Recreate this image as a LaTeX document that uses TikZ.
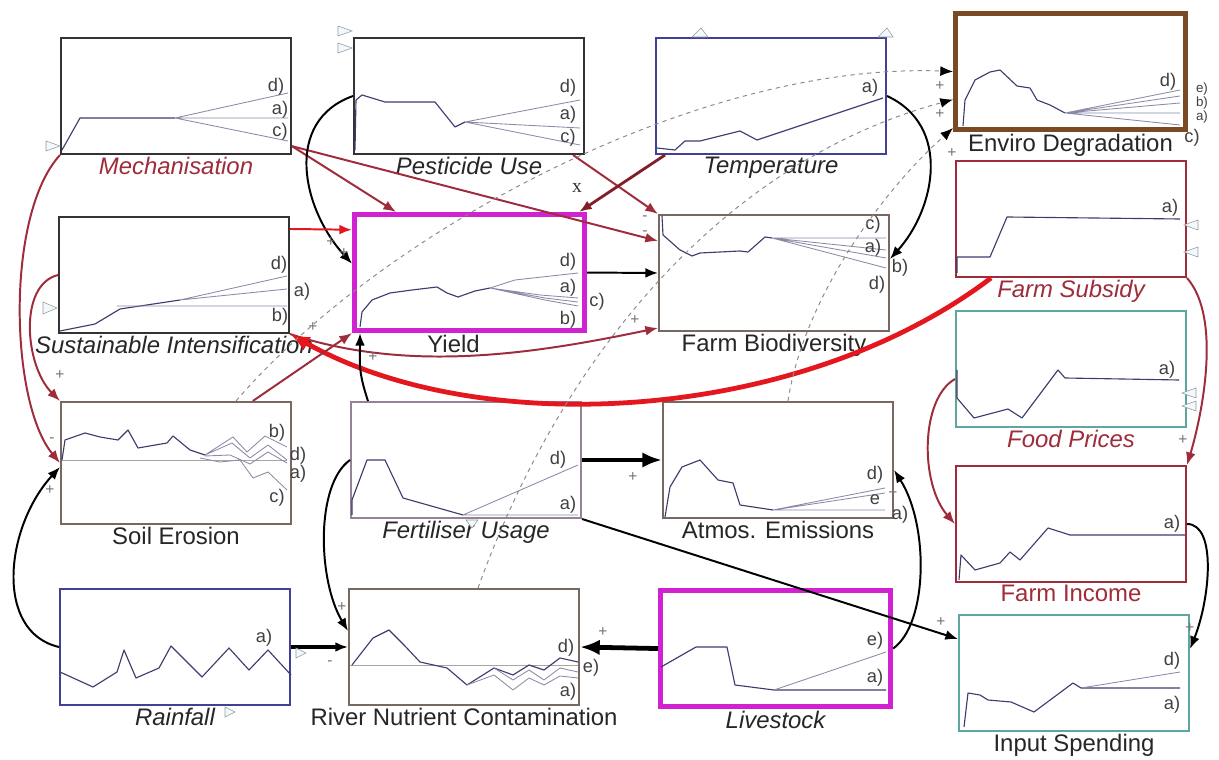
\documentclass[tikz,border=0pt]{standalone}
\usepackage{fontspec}
\setmainfont{Liberation Sans}
\newfontfamily\serifface{Liberation Serif}
\usetikzlibrary{positioning,arrows.meta}
\definecolor{wine}{RGB}{158,44,58}
\definecolor{hotred}{RGB}{228,22,30}
\definecolor{plum}{RGB}{208,34,208}
\definecolor{rust}{RGB}{122,74,34}
\definecolor{navy}{RGB}{64,64,150}
\definecolor{sea}{RGB}{96,166,160}
\definecolor{taupe}{RGB}{120,104,98}
\definecolor{mauve}{RGB}{150,130,150}
\definecolor{ink}{RGB}{60,60,110}
\definecolor{maroon}{RGB}{130,30,40}
\tikzset{panel/.style={draw=#1,line width=1.4pt,minimum width=5.75cm,
   minimum height=2.9cm,inner sep=0pt,anchor=north west},
 heavy panel/.style={panel=#1,line width=3.6pt},
 caption/.style={font=\fontsize{17}{19}\selectfont,text=black!85,inner sep=1pt},
 redcaption/.style={caption,text=wine},
 tag/.style={font=\fontsize{13}{14}\selectfont,text=black!75,inner sep=0pt},
 small tag/.style={tag,font=\fontsize{9.5}{10}\selectfont},
 sign/.style={font=\fontsize{11}{12}\selectfont,text=black!55,inner sep=0pt},
 trace/.style={draw=ink,line width=0.8pt,line join=round},
 branch/.style={draw=ink!60,line width=0.6pt,line join=round},
 zero/.style={draw=black!35,line width=0.6pt},
 link/.style={draw=black,line width=1.4pt,-{Latex[length=9pt,width=7pt]}},
 redlink/.style={link,draw=wine},
 fat/.style={line width=3.4pt,-{Latex[length=14pt,width=11pt]}},
 hint/.style={draw=black!45,dashed,line width=0.7pt,-{Latex[length=9pt,width=7pt,color=black]}},
 ghost/.style={draw=black!40,fill=cyan!6,line width=0.4pt},
 }

\begin{document}
\begin{tikzpicture}[x=0.025cm,y=-0.025cm]
\fill[white] (0,0) rectangle (1219,760);
\useasboundingbox (0,0) rectangle (1219,760);

% panels
\node[panel=black!80] (mech) at (60,37) {};
\node[panel=black!80] (pest) at (353,37) {};
\node[panel=navy] (temp) at (655,37) {};
\node[heavy panel=rust] (enviro) at (953,11) {};
\node[panel=wine] (subsidy) at (955,160) {};
\node[panel=black!80] (sustint) at (58,216) {};
\node[heavy panel=plum] (yield) at (352,212) {};
\node[panel=taupe] (biodiv) at (658,214) {};
\node[panel=sea] (prices) at (955,310) {};
\node[panel=taupe,minimum height=3.05cm] (erosion) at (60,401) {};
\node[panel=mauve] (fert) at (350,401) {};
\node[panel=taupe] (emission) at (662,401) {};
\node[panel=wine] (income) at (955,465) {};
\node[panel=navy] (rain) at (59,588) {};
\node[panel=taupe] (river) at (348,588) {};
\node[heavy panel=plum] (livestock) at (658,588) {};
\node[panel=sea] (spend) at (958,614) {};

\node[redcaption,below=0pt of mech] (mechL) {\itshape Mechanisation};
\node[caption,below=0pt of pest] (pestL) {\itshape Pesticide Use};
\node[caption,below=0pt of temp] (tempL) {\itshape Temperature};
\node[caption,below=0pt of enviro] (enviroL) {Enviro Degradation};
\node[redcaption,below=0pt of subsidy] (subsidyL) {\itshape Farm Subsidy};
\node[caption,below=0pt of sustint] (sustintL) {\itshape Sustainable Intensification};
\node[caption,below=0pt of yield,xshift=-0.4cm] (yieldL) {Yield};
\node[caption,below=0pt of biodiv] (biodivL) {Farm Biodiversity};
\node[redcaption,below=0pt of prices] (pricesL) {\itshape Food Prices};
\node[caption,below=0pt of erosion] (erosionL) {Soil Erosion};
\node[caption,below=0pt of fert] (fertL) {\itshape Fertiliser Usage};
\node[caption,below=0pt of emission] (emissionL) {Atmos. Emissions};
\node[redcaption,below=0pt of income] (incomeL) {Farm Income};
\node[caption,below=0pt of rain] (rainL) {\itshape Rainfall};
\node[caption,below=0pt of river] (riverL) {River Nutrient Contamination};
\node[caption,below=0pt of livestock] (livestockL) {\itshape Livestock};
\node[caption,below=0pt of spend] (spendL) {Input Spending};

% scenario traces
\draw[trace] (62,150) -- (80,118) -- (175,118);
\draw[branch] (175,118) -- (288,93) (175,118) -- (288,118) (175,118) -- (288,141);
\node[tag] (mechD) at (276,87) {d)};
\node[tag] (mechA) at (280,110) {a)};
\node[tag] (mechC) at (280,132) {c)};

\draw[trace] (355,150) -- (356,100) -- (362,95) -- (385,102) -- (435,102) -- (455,127) -- (465,122);
\draw[branch] (465,122) -- (580,100) (465,122) -- (580,128) (465,122) -- (580,145);
\node[tag] (pestD) at (568,88) {d)};
\node[tag] (pestA) at (568,115) {a)};
\node[tag] (pestC) at (568,138) {c)};

\draw[trace] (657,148) -- (675,150) -- (685,141) -- (700,141) -- (740,131) -- (757,140) -- (883,98);
\node[tag] (tempA) at (870,88) {a)};

\draw[trace] (963,126) -- (965,100) -- (975,80) -- (990,72) -- (1000,70) -- (1017,86) -- (1030,88) -- (1037,100) -- (1050,105) -- (1065,113);
\draw[branch] (1065,113) -- (1180,90) (1065,113) -- (1180,96) (1065,113) -- (1180,103) (1065,113) -- (1180,113) (1065,113) -- (1180,125);
\node[tag] (enviroD) at (1168,82) {d)};
\node[small tag] (enviroE) at (1202,89) {e)};
\node[small tag] (enviroB) at (1202,103) {b)};
\node[small tag] (enviroA) at (1202,117) {a)};
\node[tag] (enviroC) at (1192,138) {c)};

\draw[trace] (957,273) -- (957,257) -- (990,257) -- (1007,217) -- (1180,219);
\node[tag] (subsidyA) at (1170,208) {a)};

\draw[trace] (60,331) -- (95,324) -- (110,315) -- (120,309) -- (180,300);
\draw[branch] (180,300) -- (287,276) (180,300) -- (287,289) (117,306) -- (287,306);
\node[tag] (sustintD) at (279,265) {d)};
\node[tag] (sustintA) at (302,292) {a)};
\node[tag] (sustintB) at (280,317) {b)};

\draw[trace] (360,327) -- (362,312) -- (372,300) -- (390,293) -- (412,290) -- (437,287) -- (447,293) -- (458,297) -- (475,291) -- (490,288);
\draw[branch] (490,288) -- (515,280) -- (578,273) (490,288) -- (540,295) -- (578,298)
  (490,288) -- (545,298) -- (578,302) (490,288) -- (545,300) -- (578,306);
\node[tag] (yieldD) at (568,262) {d)};
\node[tag] (yieldA) at (568,288) {a)};
\node[tag] (yieldC) at (597,302) {c)};
\node[tag] (yieldB) at (568,320) {b)};

\draw[trace] (662,216) -- (663,235) -- (680,250) -- (692,256) -- (700,253) -- (740,251) -- (748,252) -- (765,237) -- (772,238);
\draw[branch] (772,238) -- (886,238) (772,238) -- (886,250) (772,238) -- (886,258) (772,238) -- (886,268);
\node[tag] (biodivC) at (873,225) {c)};
\node[tag] (biodivA) at (873,248) {a)};
\node[tag] (biodivB) at (900,268) {b)};
\node[tag] (biodivD) at (877,285) {d)};

\draw[trace] (957,370) -- (957,398) -- (974,418) -- (1008,409) -- (1022,418) -- (1058,370) -- (1065,378) -- (1179,380);
\node[tag] (pricesA) at (1167,370) {a)};

\draw[zero] (62,460) -- (287,460);
\draw[trace] (62,460) -- (65,440) -- (85,433) -- (100,437) -- (118,440) -- (128,430) -- (138,448) -- (167,443) -- (173,436) -- (190,450) -- (205,455);
\draw[branch] (205,455) -- (233,437) -- (247,452) -- (265,436) -- (287,447)
  (205,455) -- (232,443) -- (250,458) -- (268,445) -- (287,460)
  (205,456) -- (230,455) -- (250,464) -- (268,452) -- (287,463)
  (200,458) -- (220,462) -- (240,460) -- (253,478) -- (268,472) -- (287,490);
\node[tag] (erosionB) at (277,433) {b)};
\node[tag] (erosionD) at (298,456) {d)};
\node[tag] (erosionA) at (298,474) {a)};
\node[tag] (erosionC) at (277,498) {c)};

\draw[trace] (352,515) -- (352,500) -- (367,460) -- (385,460) -- (403,498) -- (463,515);
\draw[branch] (463,515) -- (578,465) (463,515) -- (578,515);
\node[tag] (fertD) at (558,460) {d)};
\node[tag] (fertA) at (568,505) {a)};

\draw[trace] (665,517) -- (670,487) -- (682,467) -- (700,460) -- (718,480) -- (733,483) -- (740,505) -- (773,510);
\draw[branch] (773,510) -- (885,488) (773,510) -- (885,493) (773,510) -- (885,510);
\node[tag] (emissionD) at (875,475) {d)};
\node[tag] (emissionE) at (875,500) {e};
\node[tag] (emissionA) at (900,515) {a)};

\draw[trace] (959,580) -- (961,555) -- (975,570) -- (1000,563) -- (1010,552) -- (1020,560) -- (1048,528) -- (1070,535) -- (1185,535);
\node[tag] (incomeA) at (1172,524) {a)};

\draw[trace] (60,672) -- (93,687) -- (117,672) -- (124,650) -- (136,678) -- (159,668) -- (171,646) -- (202,677) -- (229,648) -- (249,670) -- (268,650) -- (291,675);
\node[tag] (rainA) at (264,638) {a)};

\draw[zero] (350,665) -- (578,665);
\draw[trace] (352,665) -- (373,638) -- (389,630) -- (404,645) -- (420,662) -- (447,668) -- (467,685) -- (494,668) -- (513,675) -- (529,665) -- (544,670) -- (560,658) -- (578,662);
\draw[branch] (494,668) -- (513,680) -- (529,670) -- (544,680) -- (560,668) -- (578,672)
  (467,685) -- (494,675) -- (513,690) -- (529,678) -- (544,685) -- (560,676) -- (578,678);
\node[tag] (riverD) at (566,648) {d)};
\node[tag] (riverE) at (591,668) {e)};
\node[tag] (riverA) at (568,692) {a)};

\draw[trace] (661,667) -- (696,647) -- (727,647) -- (735,685) -- (774,690) -- (886,690);
\draw[branch] (774,690) -- (886,652);
\node[tag] (livestockE) at (875,641) {e)};
\node[tag] (livestockA) at (875,678) {a)};

\draw[trace] (964,727) -- (968,693) -- (980,695) -- (988,700) -- (1011,702) -- (1034,712) -- (1073,683) -- (1081,688) -- (1180,688);
\draw[branch] (1081,688) -- (1180,672);
\node[tag] (spendD) at (1172,661) {d)};
\node[tag] (spendA) at (1172,705) {a)};

% causal links
\draw[redlink] (mech.south west) .. controls +(-55,60) and +(-50,-60) .. (erosion.west);
\draw[redlink] (sustint.west) .. controls +(-40,10) and +(-35,-35) .. (erosion.north west);
\draw[redlink] ([yshift=0.22cm]mech.south east) -- ([xshift=1.1cm]yield.north west);
\draw[redlink] ([yshift=0.22cm]mech.south east) -- ([yshift=0.8cm]biodiv.west);
\draw[redlink] ([xshift=-0.3cm]pest.south east) -- (biodiv.north west);
\draw[redlink,draw=maroon,line width=2pt] ([xshift=0.25cm]temp.south west) -- ([xshift=-0.2cm]yield.north east);
\draw[link] (pest.west) .. controls +(-70,25) and +(-50,-55) .. ([yshift=0.22cm]yield.west);
\draw[link] (temp.east) .. controls +(65,30) and +(45,-50) .. ([yshift=0.35cm]biodiv.east);
\draw[link] (yield.east) -- (biodiv.west);
\draw[redlink,draw=hotred] ([yshift=1.15cm]sustint.east) -- ([yshift=1.07cm]yield.west);
\draw[redlink] (sustint.south east) .. controls +(120,40) and +(-120,25) .. ([yshift=0.1cm]biodiv.south west);
\draw[redlink,draw=hotred,fat] ([xshift=0.9cm]subsidy.south west) .. controls +(-191,145) and +(190,107) .. (sustint.south east);
\draw[redlink] ([xshift=-0.98cm]erosion.north east) -- (yield.south west);
\draw[link] ([xshift=0.45cm]fert.north west) .. controls +(-10,-30) and +(0,30) .. ([xshift=0.2cm]yield.south west);
\draw[link,fat] (fert.east) -- (emission.west);
\draw[link] (fert.south east) -- ([yshift=0.85cm]spend.west);
\draw[link] (fert.west) .. controls +(-35,25) and +(-30,-50) .. ([yshift=0.4cm]river.west);
\draw[link,fat] (livestock.west) -- (river.east);
\draw[link] (livestock.east) .. controls +(35,-25) and +(35,55) .. ([yshift=-0.25cm]emission.east);
\draw[link] (rain.west) .. controls +(-65,-15) and +(-55,60) .. ([yshift=-0.1cm]erosion.west);
\draw[link,line width=2.2pt] (rain.east) -- (river.west);
\draw[link] (income.east) .. controls +(30,0) and +(20,-50) .. ([yshift=0.6cm]spend.east);
\draw[redlink] (subsidy.south east) .. controls +(35,40) and +(15,-50) .. (income.north east);
\draw[redlink] ([yshift=-0.25cm]prices.west) .. controls +(-35,20) and +(-35,-40) .. (income.west);

% feeds into degradation
\draw[hint] ([xshift=-1.4cm]erosion.north east) .. controls +(147,-171) and +(-253,-10) .. (enviro.west);
\draw[hint] ([xshift=0.35cm]river.north) .. controls +(82,-228) and +(-233,63) .. ([yshift=-0.7cm]enviro.west);
\draw[hint] ([xshift=0.25cm]emission.north) .. controls +(15,-100) and +(-73,65) .. ([yshift=0.1cm]enviro.south west);

% polarity marks
\node[sign] (p1) at (940,86) {+};
\node[sign] (p2) at (940,114) {+};
\node[sign] (p3) at (952,153) {+};
\node[sign] (p4) at (331,242) {+};
\node[sign] (p5) at (344,253) {+};
\node[sign] (p6) at (313,327) {+};
\node[sign] (p7) at (373,357) {+};
\node[sign] (m1) at (645,218) {-};
\node[sign] (m2) at (645,233) {-};
\node[sign] (p8) at (635,320) {+};
\node[sign] (p9) at (60,375) {+};
\node[sign] (m3) at (52,440) {-};
\node[sign] (p10) at (50,490) {+};
\node[sign] (p11) at (633,477) {+};
\node[sign] (p12) at (893,493) {+};
\node[sign] (p13) at (342,607) {+};
\node[sign] (m4) at (330,663) {-};
\node[sign] (p14) at (603,632) {+};
\node[sign] (p15) at (941,622) {+};
\node[sign] (p16) at (1190,628) {+};
\node[sign] (p17) at (1183,440) {+};
\node[text=black!80,inner sep=0pt,font=\serifface\fontsize{14}{14}\selectfont] (xmark) at (577,188) {x};

% little flow markers
\draw[ghost] (60,146) -- ++(-14,-5) -- ++(0,10) -- cycle;
\draw[ghost] (352,31) -- ++(-14,-5) -- ++(0,10) -- cycle;
\draw[ghost] (352,48) -- ++(-14,-5) -- ++(0,10) -- cycle;
\draw[ghost] (57,308) -- ++(-14,-6) -- ++(0,12) -- cycle;
\draw[ghost] (692,37) -- (701,28) -- (708,37) -- cycle;
\draw[ghost] (878,37) -- (887,28) -- (893,37) -- cycle;
\draw[ghost] (1184,225) -- ++(14,-5) -- ++(0,10) -- cycle;
\draw[ghost] (1184,252) -- ++(14,-5) -- ++(0,10) -- cycle;
\draw[ghost] (1182,393) -- ++(14,-5) -- ++(0,10) -- cycle;
\draw[ghost] (1182,406) -- ++(14,-5) -- ++(0,10) -- cycle;
\draw[ghost] (306,653) -- ++(-10,-5) -- ++(0,10) -- cycle;
\draw[ghost] (235,712) -- ++(-10,-5) -- ++(0,10) -- cycle;
\draw[ghost] (472,528) -- ++(-6,-8) -- ++(12,0) -- cycle;
\end{tikzpicture}
\end{document}
